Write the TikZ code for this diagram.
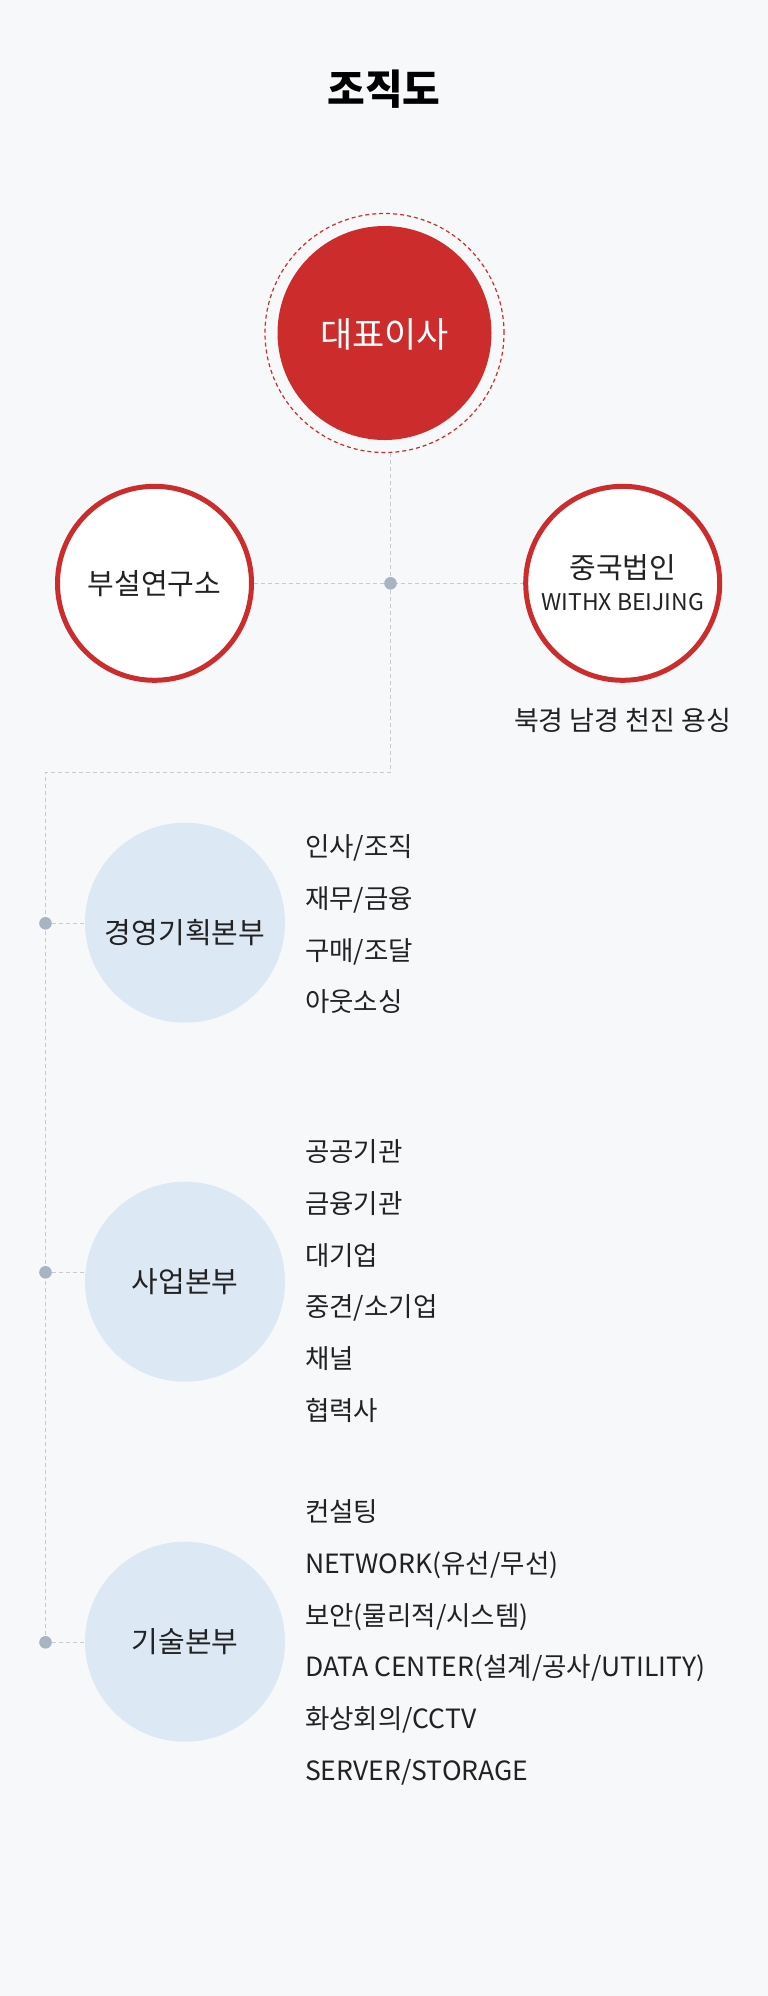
\documentclass[tikz,border=0pt]{standalone}
\usepackage{fontspec}
\setmainfont{Noto Sans CJK KR}
\definecolor{bgc}{HTML}{F7F8FA}
\definecolor{redc}{HTML}{CC2C2C}
\definecolor{bluec}{HTML}{DDE8F5}
\definecolor{dotc}{HTML}{A9B4C2}
\definecolor{linec}{HTML}{C8CACE}
\definecolor{txt}{HTML}{222222}
\pgfdeclarelayer{bg}
\pgfsetlayers{bg,main}
\tikzset{
  conn/.style={draw=linec, line width=1bp, dash pattern=on 4bp off 3bp},
  hubdot/.style={circle, fill=dotc, minimum size=12.6bp, inner sep=0pt},
  redring/.style={circle, draw=redc, line width=5bp, fill=white, minimum size=194bp, inner sep=0pt},
  dept/.style={circle, fill=bluec, minimum size=200bp, inner sep=0pt},
  lbl/.style={text=txt, font=\fontsize{29bp}{34bp}\selectfont, inner sep=0pt},
  item/.style={text=txt, font=\fontsize{26.5bp}{32bp}\selectfont, anchor=base west, inner sep=0pt},
}
\begin{document}
\begin{tikzpicture}[x=1bp,y=-1bp]
\begin{pgfonlayer}{bg}
\fill[bgc] (0,0) rectangle (768,1996);
\end{pgfonlayer}
\useasboundingbox (0,0) rectangle (768,1996);

% title
\node[font=\fontsize{41bp}{48bp}\selectfont\bfseries, text=black, inner sep=0pt] (title) at (384,89) {조직도};

% CEO
\node[circle, draw=redc, line width=1.2bp, dash pattern=on 4bp off 3bp, minimum size=239bp, inner sep=0pt] (ring) at (384.5,333) {};
\node[circle, fill=redc, minimum size=214bp, inner sep=0pt] (ceo) at (384.5,333) {};
\node[text=white, font=\fontsize{35bp}{42bp}\selectfont, inner sep=0pt] (ceot) at (384.5,334) {대표이사};

% hub
\node[hubdot] (hub) at (390.5,583.3) {};

% side units
\node[redring] (lab) at (154.5,583.3) {};
\node[lbl] (labt) at (154.5,583.3) {부설연구소};
\node[redring] (china) at (622.7,583.3) {};
\node[lbl] (chinat) at (622.7,567.5) {중국법인};
\node[text=txt, font=\fontsize{23bp}{28bp}\selectfont, inner sep=0pt] (chinae) at (622.7,601.7) {WITHX BEIJING};
\node[text=txt, font=\fontsize{27bp}{32bp}\selectfont, inner sep=0pt] (cities) at (622.5,720) {북경 남경 천진 용싱};

% trunk
\coordinate (turn) at (45.5,772.3);
\node[hubdot] (d1) at (45.5,923.3) {};
\node[hubdot] (d2) at (45.5,1272.3) {};
\node[hubdot] (d3) at (45.5,1642.3) {};

% departments
\node[dept] (mgmt) at (185,922.7) {};
\node[lbl] (mgmtt) at (185,933) {경영기획본부};
\node[dept] (biz) at (185,1281.7) {};
\node[lbl] (bizt) at (185,1281.7) {사업본부};
\node[dept] (tech) at (185,1641.7) {};
\node[lbl] (techt) at (185,1642) {기술본부};

% lists
\node[item] (m1) at (305,856.7) {인사/조직};
\node[item] (m2) at (305,908.4) {재무/금융};
\node[item] (m3) at (305,960.1) {구매/조달};
\node[item] (m4) at (305,1011.8) {아웃소싱};

\node[item] (b1) at (305,1161.7) {공공기관};
\node[item] (b2) at (305,1213.4) {금융기관};
\node[item] (b3) at (305,1265.1) {대기업};
\node[item] (b4) at (305,1316.8) {중견/소기업};
\node[item] (b5) at (305,1368.5) {채널};
\node[item] (b6) at (305,1420.2) {협력사};

\node[item] (t1) at (305,1521.7) {컨설팅};
\node[item] (t2) at (305,1573.4) {NETWORK(유선/무선)};
\node[item] (t3) at (305,1625.1) {보안(물리적/시스템)};
\node[item] (t4) at (305,1676.8) {DATA CENTER(설계/공사/UTILITY)};
\node[item] (t5) at (305,1728.5) {화상회의/CCTV};
\node[item] (t6) at (305,1780.2) {SERVER/STORAGE};

\begin{pgfonlayer}{bg}
\draw[conn] (hub |- ring.south) -- (hub);
\draw[conn] (lab.east) -- (china.west);
\draw[conn] (hub) -- (hub |- turn) -- (turn) -- (d3);
\draw[conn] (d1) -- (d1 -| mgmt.west);
\draw[conn] (d2) -- (d2 -| biz.west);
\draw[conn] (d3) -- (d3 -| tech.west);
\end{pgfonlayer}
\end{tikzpicture}
\end{document}
